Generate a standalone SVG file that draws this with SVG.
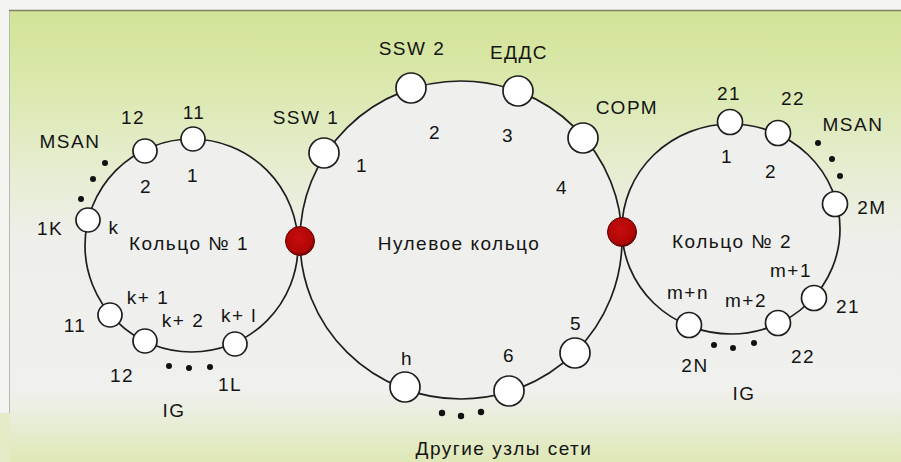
<svg xmlns="http://www.w3.org/2000/svg" width="901" height="462" viewBox="0 0 901 462">
  <defs>
    <linearGradient id="bg" x1="0" y1="11" x2="0" y2="462" gradientUnits="userSpaceOnUse">
      <stop offset="0" stop-color="#d2e398"/>
      <stop offset="0.12" stop-color="#d8e7a6"/>
      <stop offset="0.35" stop-color="#e6edd0"/>
      <stop offset="0.5" stop-color="#eeefea"/>
      <stop offset="0.84" stop-color="#f0f0ee"/>
      <stop offset="0.9" stop-color="#e9eedb"/>
      <stop offset="1" stop-color="#dfe8b6"/>
    </linearGradient>
    <radialGradient id="hub" cx="0.45" cy="0.4" r="0.6">
      <stop offset="0" stop-color="#c80d0d"/>
      <stop offset="0.8" stop-color="#b00606"/>
      <stop offset="1" stop-color="#7a0000"/>
    </radialGradient>
    <style>
      text { font-family: "Liberation Sans", Arial, sans-serif; font-size: 19px; letter-spacing: 1.5px; fill: #141414; text-anchor: middle; }
      .ring { fill: none; stroke: #1e1e1e; stroke-width: 1.7; }
      .ringfill { fill: #efefed; stroke: none; }
      .n1 { fill: #fff; stroke: #1e1e1e; stroke-width: 1.7; }
      .hub { fill: url(#hub); stroke: #5a0000; stroke-width: 1; }
      .dot { fill: #111; }
    </style>
  </defs>

  <!-- page background -->
  <rect x="0" y="0" width="901" height="462" fill="#f4f4f1"/>
  <rect x="9" y="11" width="892" height="451" fill="url(#bg)"/>
  <rect x="0" y="413" width="10" height="49" fill="#e4ebc6"/>
  <line x1="9" y1="10.5" x2="901" y2="10.5" stroke="#7d7f6a" stroke-width="1.5"/>
  <line x1="9.5" y1="11" x2="9.5" y2="413" stroke="#b8b8b0" stroke-width="1"/>

  <!-- ring interiors -->
  <g id="ring-fills">
    <ellipse class="ringfill" cx="191.5" cy="245.5" rx="106.5" ry="106.5"/>
    <ellipse class="ringfill" cx="461" cy="240" rx="161" ry="159"/>
    <ellipse class="ringfill" cx="731" cy="229" rx="109" ry="105"/>
  </g>

  <!-- ring links -->
  <g id="connectors">
    <ellipse class="ring" cx="191.5" cy="245.5" rx="106.5" ry="106.5"/>
    <ellipse class="ring" cx="461" cy="240" rx="161" ry="159"/>
    <ellipse class="ring" cx="731" cy="229" rx="109" ry="105"/>
  </g>

  <!-- Ring 1 -->
  <g id="ring1">
    <g id="r1-11"><circle class="n1" cx="193" cy="139" r="12"/><text x="194" y="119">11</text></g>
    <g id="r1-12"><circle class="n1" cx="145" cy="151" r="12"/><text x="133" y="124">12</text></g>
    <g id="r1-k"><circle class="n1" cx="88" cy="220" r="12"/><text x="50" y="235">1K</text><text x="114" y="234">k</text></g>
    <g id="r1-k1"><circle class="n1" cx="110" cy="315" r="12"/><text x="75" y="332">11</text><text x="148" y="304">k+ 1</text></g>
    <g id="r1-k2"><circle class="n1" cx="145" cy="341" r="12"/><text x="122" y="382">12</text><text x="183" y="327">k+ 2</text></g>
    <g id="r1-kl"><circle class="n1" cx="235" cy="344" r="12"/><text x="239" y="322">k+ l</text><text x="230" y="391">1L</text></g>
    <g id="r1-labels">
      <text x="70" y="148">MSAN</text>
      <text x="146" y="193">2</text>
      <text x="193" y="182">1</text>
      <text x="189" y="250">Кольцо № 1</text>
      <text x="174" y="417">IG</text>
      <circle class="dot" cx="105" cy="163" r="3"/>
      <circle class="dot" cx="93" cy="179" r="3"/>
      <circle class="dot" cx="81" cy="199" r="3"/>
      <circle class="dot" cx="169" cy="366" r="3"/>
      <circle class="dot" cx="189" cy="368" r="3"/>
      <circle class="dot" cx="210" cy="367" r="3"/>
    </g>
  </g>

  <!-- Zero ring -->
  <g id="ring0">
    <g id="r0-ssw1"><circle class="n1" cx="324" cy="153" r="15"/><text x="306" y="124">SSW 1</text><text x="362" y="172">1</text></g>
    <g id="r0-ssw2"><circle class="n1" cx="411" cy="88" r="15"/><text x="412" y="55">SSW 2</text><text x="435" y="139">2</text></g>
    <g id="r0-edds"><circle class="n1" cx="518" cy="91" r="15"/><text x="519" y="59">ЕДДС</text><text x="508" y="142">3</text></g>
    <g id="r0-sorm"><circle class="n1" cx="583" cy="138" r="15"/><text x="627" y="114">СОРМ</text><text x="562" y="194">4</text></g>
    <g id="r0-5"><circle class="n1" cx="575" cy="353" r="15"/><text x="576" y="330">5</text></g>
    <g id="r0-6"><circle class="n1" cx="509" cy="391" r="15"/><text x="509" y="362">6</text></g>
    <g id="r0-h"><circle class="n1" cx="405" cy="387" r="15"/><text x="407" y="365">h</text></g>
    <g id="r0-labels">
      <text x="459" y="250">Нулевое кольцо</text>
      <text x="504" y="455">Другие узлы сети</text>
      <circle class="dot" cx="442" cy="413" r="3.2"/>
      <circle class="dot" cx="461" cy="416" r="3.2"/>
      <circle class="dot" cx="481" cy="412" r="3.2"/>
    </g>
  </g>

  <!-- Ring 2 -->
  <g id="ring2">
    <g id="r2-21"><circle class="n1" cx="730" cy="122" r="12.5"/><text x="729" y="100">21</text><text x="727" y="163">1</text></g>
    <g id="r2-22"><circle class="n1" cx="778" cy="133" r="12.5"/><text x="793" y="105">22</text><text x="771" y="178">2</text></g>
    <g id="r2-2m"><circle class="n1" cx="835" cy="204" r="12.5"/><text x="872" y="214">2M</text></g>
    <g id="r2-m1"><circle class="n1" cx="814" cy="298" r="12.5"/><text x="791" y="277">m+1</text><text x="848" y="313">21</text></g>
    <g id="r2-m2"><circle class="n1" cx="778" cy="323" r="12.5"/><text x="746" y="307">m+2</text><text x="803" y="363">22</text></g>
    <g id="r2-mn"><circle class="n1" cx="689" cy="325" r="12.5"/><text x="688" y="299">m+n</text><text x="695" y="372">2N</text></g>
    <g id="r2-labels">
      <text x="853" y="131">MSAN</text>
      <text x="732" y="248">Кольцо № 2</text>
      <text x="744" y="400">IG</text>
      <circle class="dot" cx="818" cy="143" r="3"/>
      <circle class="dot" cx="832" cy="159" r="3"/>
      <circle class="dot" cx="840" cy="176" r="3"/>
      <circle class="dot" cx="714" cy="345" r="3"/>
      <circle class="dot" cx="733" cy="348" r="3"/>
      <circle class="dot" cx="754" cy="343" r="3"/>
    </g>
  </g>

  <!-- junction nodes shared by rings -->
  <g id="hub-left"><circle class="hub" cx="300" cy="241" r="14.5"/></g>
  <g id="hub-right"><circle class="hub" cx="622" cy="232" r="14.5"/></g>
</svg>
